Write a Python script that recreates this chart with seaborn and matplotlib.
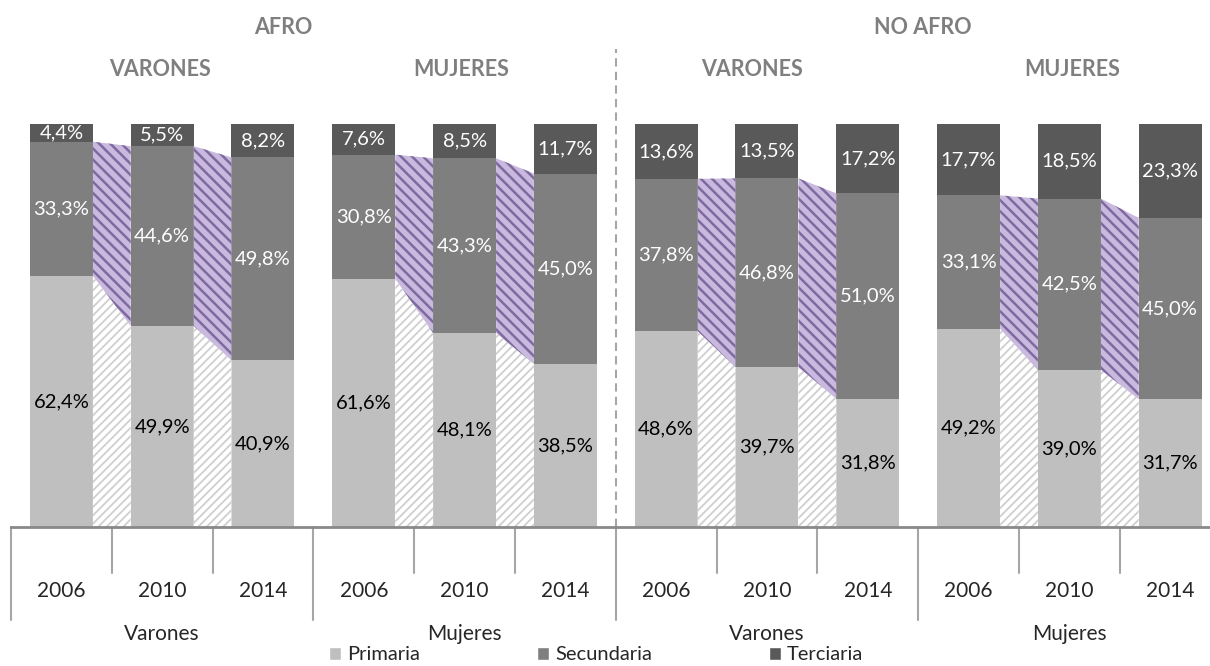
import numpy as np
import pandas as pd
import matplotlib
matplotlib.use('Agg')
import matplotlib.pyplot as plt
from matplotlib.patches import Patch
import seaborn as sns

# data (percent, labels as printed)
origins = ['AFRO', 'NO AFRO']
sexes = ['Varones', 'Mujeres']
years = ['2006', '2010', '2014']

primaria = [62.4, 49.9, 40.9, 61.6, 48.1, 38.5,
            48.6, 39.7, 31.8, 49.2, 39.0, 31.7]
secundaria = [33.3, 44.6, 49.8, 30.8, 43.3, 45.0,
              37.8, 46.8, 51.0, 33.1, 42.5, 45.0]
terciaria = [4.4, 5.5, 8.2, 7.6, 8.5, 11.7,
             13.6, 13.5, 17.2, 17.7, 18.5, 23.3]

c_prim = '#bfbfbf'
c_sec = '#7f7f7f'
c_ter = '#595959'
c_head = '#7f7f7f'

sns.set_style('white')
plt.rcParams['font.family'] = ['Lato', 'DejaVu Sans']

keys = []
for o in origins:
    for s in sexes:
        for y in years:
            keys.append(o + ' ' + s + ' ' + y)

p = np.array(primaria)
s_ = np.array(secundaria)
t = np.array(terciaria)
tot = p + s_ + t
# 100% stacked: heights normalized like the excel chart
p_n = p / tot * 100
ps_n = (p + s_) / tot * 100

df = pd.DataFrame({'key': keys, 'prim': p_n, 'cum2': ps_n, 'cum3': 100.0})

fig = plt.figure(figsize=(12.1, 6.66), dpi=100)
ax = fig.add_axes([11 / 1210, 139 / 666, 1209.6 / 1210, 403 / 666])

bw = 0.625
sns.barplot(data=df, x='key', y='cum3', color=c_ter, saturation=1, width=bw,
            linewidth=0, ax=ax, order=keys)
sns.barplot(data=df, x='key', y='cum2', color=c_sec, saturation=1, width=bw,
            linewidth=0, ax=ax, order=keys)
sns.barplot(data=df, x='key', y='prim', color=c_prim, saturation=1, width=bw,
            linewidth=0, ax=ax, order=keys)

# hatched connectors between bars inside each group
for g in range(4):
    for i in range(2):
        j = 3 * g + i
        xs = [j + bw / 2, j + 1 - bw / 2]
        with plt.rc_context({'hatch.linewidth': 1.3}):
            ax.fill_between(xs, [0, 0], [p_n[j], p_n[j + 1]], facecolor='white',
                            edgecolor='#cfcfcf', hatch='////', linewidth=0, zorder=1)
        with plt.rc_context({'hatch.linewidth': 1.8}):
            ax.fill_between(xs, [p_n[j], p_n[j + 1]], [ps_n[j], ps_n[j + 1]],
                            facecolor='#c9b9de', edgecolor='#7f6aa0', hatch='\\\\\\',
                            linewidth=0, zorder=1)

# value labels
def fmt(v):
    return '{:.1f}%'.format(v).replace('.', ',')

for j in range(12):
    ax.text(j, p_n[j] / 2, fmt(p[j]), ha='center', va='center', fontsize=14.5, color='black')
    ax.text(j, (p_n[j] + ps_n[j]) / 2, fmt(s_[j]), ha='center', va='center',
            fontsize=14.5, color='white')
    ax.text(j, (ps_n[j] + 100) / 2, fmt(t[j]), ha='center', va='center',
            fontsize=14.5, color='white')

ax.set_xlim(-0.5, 11.5)
ax.set_ylim(0, 100)
ax.set_xticks([])
ax.set_yticks([])
ax.set_xlabel('')
ax.set_ylabel('')
for side in ['top', 'right', 'left']:
    ax.spines[side].set_visible(False)
ax.spines['bottom'].set_color('#898989')
ax.spines['bottom'].set_linewidth(2)

# two level category axis
tr = ax.get_xaxis_transform()
for k in range(13):
    xb = k - 0.5
    y_end = -0.231 if k % 3 == 0 else -0.114
    ax.plot([xb, xb], [0, y_end], color='#a6a6a6', lw=1.5, transform=tr, clip_on=False)
for j in range(12):
    ax.text(j, -0.159, years[j % 3], transform=tr, ha='center', va='center', fontsize=15)
for g in range(4):
    ax.text(3 * g + 1, -0.265, sexes[g % 2], transform=tr, ha='center', va='center',
            fontsize=15)

# dashed separator between AFRO / NO AFRO
ax.plot([5.5, 5.5], [0, 1.186], color='#a6a6a6', lw=1.5, ls=(0, (4, 2.5)),
        transform=tr, clip_on=False)

# headers
fig.text(283 / 1210, 1 - 27 / 666, origins[0], ha='center', va='center',
         fontsize=15.5, fontweight='bold', color=c_head)
fig.text(923 / 1210, 1 - 27 / 666, origins[1], ha='center', va='center',
         fontsize=15.5, fontweight='bold', color=c_head)
for xc, lab in zip([160, 461, 752, 1072], sexes * 2):
    fig.text(xc / 1210, 1 - 70 / 666, lab.upper(), ha='center', va='center',
             fontsize=15.5, fontweight='bold', color=c_head)

handles = [Patch(facecolor=c_prim, label='Primaria'),
           Patch(facecolor=c_sec, label='Secundaria'),
           Patch(facecolor=c_ter, label='Terciaria')]
fig.legend(handles=handles, loc='center', bbox_to_anchor=(596 / 1210, 1 - 655 / 666),
           ncol=3, frameon=False, fontsize=14.5, handlelength=0.6, handleheight=0.6,
           handletextpad=0.3, columnspacing=5.8, borderpad=0)

fig.savefig('out.png', dpi=100)
